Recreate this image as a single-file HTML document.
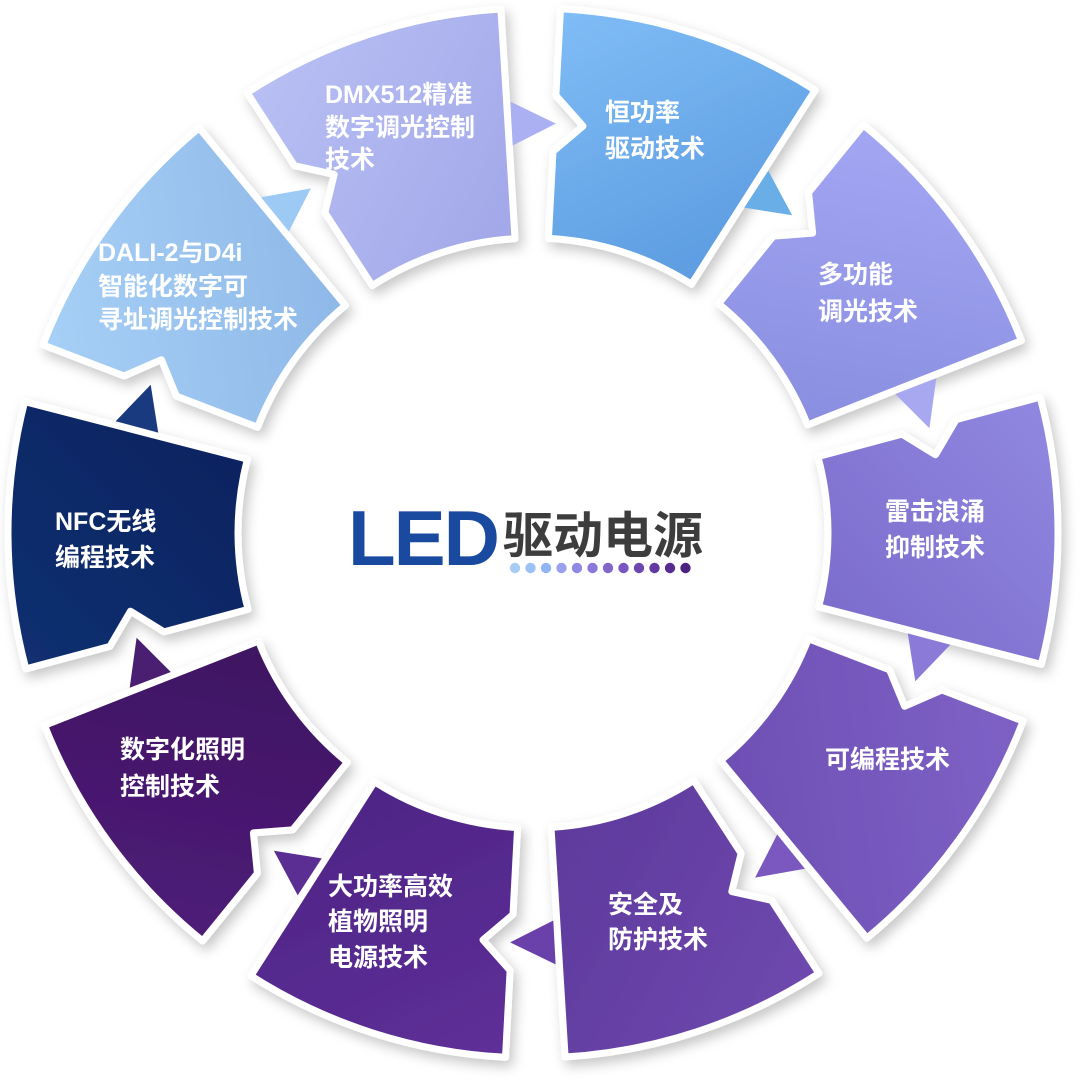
<!DOCTYPE html>
<html><head><meta charset="utf-8">
<style>
html,body{margin:0;padding:0;background:#fff;}
svg{display:block;}
text{font-family:"Liberation Sans","Noto Sans CJK SC",sans-serif;font-weight:bold;}
</style></head>
<body>
<svg id="s" width="1080" height="1088" viewBox="0 0 1080 1088" xmlns="http://www.w3.org/2000/svg">
<defs>
<filter id="sh" x="-20%" y="-20%" width="140%" height="140%">
<feDropShadow dx="4" dy="6" stdDeviation="6" flood-color="#000" flood-opacity="0.22"/>
</filter>
<g id="defs2"></g>
</defs>
<g id="segs"></g>
<g id="arrows"></g>
<g fill="#fff" font-size="25" dominant-baseline="central">
<text x="605" y="113">恒功率</text><text x="605" y="149">驱动技术</text>
<text x="818" y="275">多功能</text><text x="818" y="312">调光技术</text>
<text x="885" y="512">雷击浪涌</text><text x="885" y="548">抑制技术</text>
<text x="825" y="760">可编程技术</text>
<text x="608" y="905">安全及</text><text x="608" y="940">防护技术</text>
<text x="328" y="887">大功率高效</text><text x="328" y="922">植物照明</text><text x="328" y="958">电源技术</text>
<text x="120" y="750">数字化照明</text><text x="120" y="787">控制技术</text>
<text x="55" y="522">NFC无线</text><text x="55" y="558">编程技术</text>
<text x="98" y="253">DALI-2与D4i</text><text x="98" y="287">智能化数字可</text><text x="98" y="320">寻址调光控制技术</text>
<text x="325" y="95">DMX512精准</text><text x="325" y="128">数字调光控制</text><text x="325" y="160">技术</text>
</g>
<text x="348" y="538" font-size="78" fill="#1a4aa0" dominant-baseline="central" style="letter-spacing:-2px">LED</text>
<text x="503" y="536" font-size="50" fill="#3d3d3d" dominant-baseline="central">驱动电源</text>
<g id="dots"></g>
</svg>
<script>
var NS="http://www.w3.org/2000/svg";
var cx=533,cy=533,R=525,r=295,rm=410;
function P(a,rad){var t=a*Math.PI/180;return [cx+rad*Math.sin(t),cy-rad*Math.cos(t)];}
function f(p){return p[0].toFixed(1)+","+p[1].toFixed(1);}
var cols=[["#80bdf7","#5c9ce0"],["#a3a6f3","#8a8ee0"],["#9088e0","#7c6ccc"],["#7f62c6","#6e4fb4"],["#6e48ae","#5e3a9c"],["#5e3098","#4e2486"],["#4e1d78","#3e1262"],["#123070","#0b2360"],["#a6d0f6","#8fb8e8"],["#b8bff4","#a2a8e8"]];
var acol=["#aab0f2","#6aaee8","#a8a8f0","#8c7ad8","#7a58c0","#6a40aa","#5a2e92","#4a1f72","#1a3a80","#9ccaf5"];
var segs=document.getElementById("segs"),arr=document.getElementById("arrows"),d2=document.getElementById("defs2");
for(var k=0;k<10;k++){
 var a0=k*36+3,a1=k*36+32.5;
 var g=document.createElementNS(NS,"linearGradient");g.setAttribute("id","g"+k);
 var pa=P(a0,R),pb=P(a1,r);
 g.setAttribute("gradientUnits","userSpaceOnUse");
 g.setAttribute("x1",pa[0]);g.setAttribute("y1",pa[1]);g.setAttribute("x2",pb[0]);g.setAttribute("y2",pb[1]);
 g.innerHTML='<stop offset="0" stop-color="'+cols[k][0]+'"/><stop offset="1" stop-color="'+cols[k][1]+'"/>';
 d2.parentNode.appendChild(g);
 var d="M"+f(P(a0,R))+" A"+R+","+R+" 0 0 1 "+f(P(a1,R))+" L"+f(P(a1,r))+" A"+r+","+r+" 0 0 0 "+f(P(a0,r))+" L"+f(P(a0,rm-28))+" L"+f(P(a0+4,rm))+" L"+f(P(a0,rm+28))+" Z";
 var p=document.createElementNS(NS,"path");p.setAttribute("d",d);p.setAttribute("fill","url(#g"+k+")");
 p.setAttribute("stroke","#fff");p.setAttribute("stroke-width","7");p.setAttribute("stroke-linejoin","round");p.setAttribute("filter","url(#sh)");
 segs.appendChild(p);
 var b=k*36;
 var t=document.createElementNS(NS,"path");
 t.setAttribute("d","M"+f(P(b-3,rm-22))+" L"+f(P(b+3.2,rm))+" L"+f(P(b-3,rm+22))+" Z");
 t.setAttribute("fill",acol[k]);arr.appendChild(t);
}
var dc=["#a8cdf5","#9cc2f3","#90b5f0","#9aa2ee","#9088e4","#8a78da","#8266cc","#7a56c0","#6e46b0","#6238a2","#562c92","#4a2282"];
var dg=document.getElementById("dots");
for(var i=0;i<12;i++){var c=document.createElementNS(NS,"circle");c.setAttribute("cx",515+i*15.5);c.setAttribute("cy",568);c.setAttribute("r",5.2);c.setAttribute("fill",dc[i]);dg.appendChild(c);}
</script>
</body></html>
